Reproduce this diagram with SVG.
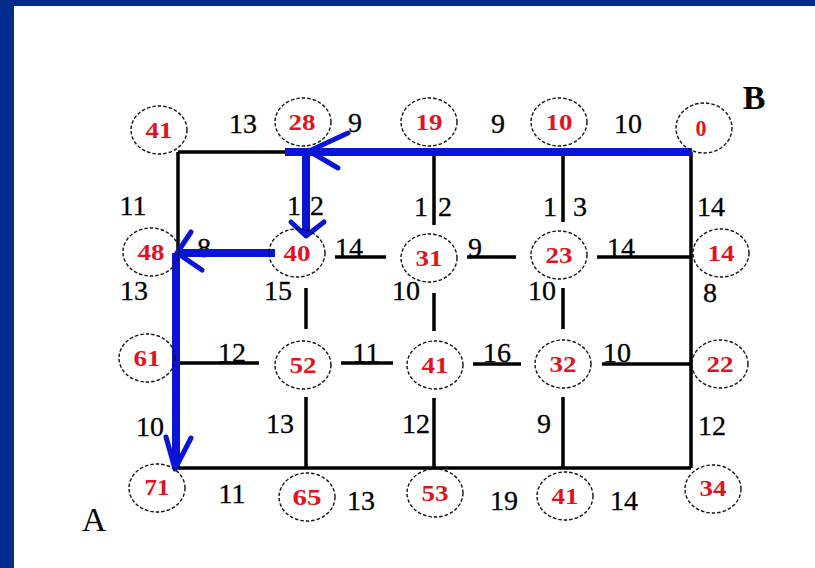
<svg xmlns="http://www.w3.org/2000/svg" width="815" height="568" viewBox="0 0 815 568">
<style>
.lab{font-family:"Liberation Serif","Times New Roman","DejaVu Serif",serif;font-size:28px;fill:#000;stroke:#000;stroke-width:0.3;text-anchor:middle}
.big{font-family:"Liberation Serif","Times New Roman","DejaVu Serif",serif;font-size:34px;fill:#000;text-anchor:middle}
.num{font-family:"Liberation Serif","Times New Roman","DejaVu Serif",serif;font-size:24px;font-weight:bold;fill:#E0141E;text-anchor:middle}
.ring{fill:none;stroke:#111;stroke-width:1.4;stroke-dasharray:3.5 2}
.edge{stroke:#000;stroke-width:3.5;fill:none}
.path{stroke:#0A14D6;stroke-width:8;fill:none}
.head{stroke:#0A14D6;stroke-width:5;fill:none;stroke-linecap:round;stroke-linejoin:round}
</style>
<rect x="0" y="0" width="815" height="568" fill="#fff"/>
<rect x="0" y="0" width="815" height="6" fill="#002D8C"/>
<rect x="0" y="0" width="14" height="568" fill="#002D8C"/>

<g id="connectors">
<path class="edge" d="M178 152 H692 M178 152 V468 M691 152 V468 M176 468 H691"/>
<path class="edge" d="M306 152 V235 M306 288 V329 M306 397 V468"/>
<path class="edge" d="M434 152 V225 M434 293 V331 M434 398 V468"/>
<path class="edge" d="M563 152 V222 M563 288 V329 M563 397 V468"/>
<path class="edge" d="M335 257 H386 M467 257 H516 M597 257 H691"/>
<path class="edge" d="M177 363 H259 M341 363 H393 M473 364 H521 M602 364 H691"/>
</g>

<g id="edge-labels">
<text class="lab" x="243" y="133">13</text>
<text class="lab" x="355" y="132">9</text>
<text class="lab" x="498" y="133">9</text>
<text class="lab" x="628" y="133">10</text>
<text class="lab" x="133" y="215">11</text>
<text class="lab" x="294" y="215">1</text>
<text class="lab" x="317" y="215">2</text>
<text class="lab" x="421" y="216">1</text>
<text class="lab" x="445" y="216">2</text>
<text class="lab" x="550" y="216">1</text>
<text class="lab" x="580" y="216">3</text>
<text class="lab" x="711" y="216">14</text>
<text class="lab" x="204" y="257">8</text>
<text class="lab" x="349" y="257">14</text>
<text class="lab" x="475" y="257">9</text>
<text class="lab" x="621" y="257">14</text>
<text class="lab" x="134" y="300">13</text>
<text class="lab" x="278" y="300">15</text>
<text class="lab" x="406" y="300">10</text>
<text class="lab" x="542" y="300">10</text>
<text class="lab" x="710" y="302">8</text>
<text class="lab" x="232" y="362">12</text>
<text class="lab" x="366" y="362">11</text>
<text class="lab" x="497" y="362">16</text>
<text class="lab" x="617" y="362">10</text>
<text class="lab" x="150" y="436">10</text>
<text class="lab" x="280" y="433">13</text>
<text class="lab" x="416" y="433">12</text>
<text class="lab" x="544" y="433">9</text>
<text class="lab" x="712" y="435">12</text>
<text class="lab" x="232" y="503">11</text>
<text class="lab" x="361" y="510">13</text>
<text class="lab" x="504" y="510">19</text>
<text class="lab" x="624" y="510">14</text>
<text class="big" x="94" y="531">A</text>
<text class="big" x="754" y="109" font-weight="bold">B</text>
</g>

<g id="shortest-path">
<path class="path" d="M692 152 H285 M306 148 V232 M275 253 H179 M176 253 V466"/>
<path class="head" d="M348 133 L309 151 L338 168"/>
<path class="head" d="M291 222 L306 236 L324 222"/>
<path class="head" d="M191 232 L177 253 L202 270"/>
<path class="head" d="M166 437 L175 469 L191 438"/>
</g>

<g id="n-41a"><ellipse class="ring" cx="159" cy="130" rx="28" ry="24"/><text class="num" x="159" y="138" textLength="27" lengthAdjust="spacingAndGlyphs">41</text></g>
<g id="n-28"><ellipse class="ring" cx="303" cy="122" rx="28" ry="24"/><text class="num" x="302" y="130" textLength="27" lengthAdjust="spacingAndGlyphs">28</text></g>
<g id="n-19"><ellipse class="ring" cx="429" cy="122" rx="28" ry="24"/><text class="num" x="429" y="130" textLength="27" lengthAdjust="spacingAndGlyphs">19</text></g>
<g id="n-10"><ellipse class="ring" cx="559" cy="122" rx="28" ry="24"/><text class="num" x="559" y="130" textLength="27" lengthAdjust="spacingAndGlyphs">10</text></g>
<g id="n-0"><ellipse class="ring" cx="704" cy="128" rx="28" ry="25"/><text class="num" x="701" y="136" textLength="11" lengthAdjust="spacingAndGlyphs">0</text></g>

<g id="n-48"><ellipse class="ring" cx="151" cy="252" rx="28" ry="24"/><text class="num" x="151" y="260" textLength="27" lengthAdjust="spacingAndGlyphs">48</text></g>
<g id="n-40"><ellipse class="ring" cx="297" cy="253" rx="28" ry="24"/><text class="num" x="297" y="261" textLength="27" lengthAdjust="spacingAndGlyphs">40</text></g>
<g id="n-31"><ellipse class="ring" cx="429" cy="258" rx="28" ry="24"/><text class="num" x="429" y="266" textLength="27" lengthAdjust="spacingAndGlyphs">31</text></g>
<g id="n-23"><ellipse class="ring" cx="559" cy="255" rx="28" ry="24"/><text class="num" x="559" y="263" textLength="27" lengthAdjust="spacingAndGlyphs">23</text></g>
<g id="n-14"><ellipse class="ring" cx="721" cy="253" rx="28" ry="24"/><text class="num" x="721" y="261" textLength="27" lengthAdjust="spacingAndGlyphs">14</text></g>

<g id="n-61"><ellipse class="ring" cx="147" cy="358" rx="28" ry="24"/><text class="num" x="147" y="366" textLength="27" lengthAdjust="spacingAndGlyphs">61</text></g>
<g id="n-52"><ellipse class="ring" cx="303" cy="365" rx="28" ry="24"/><text class="num" x="303" y="373" textLength="27" lengthAdjust="spacingAndGlyphs">52</text></g>
<g id="n-41b"><ellipse class="ring" cx="435" cy="365" rx="28" ry="24"/><text class="num" x="435" y="373" textLength="27" lengthAdjust="spacingAndGlyphs">41</text></g>
<g id="n-32"><ellipse class="ring" cx="563" cy="364" rx="28" ry="24"/><text class="num" x="563" y="372" textLength="27" lengthAdjust="spacingAndGlyphs">32</text></g>
<g id="n-22"><ellipse class="ring" cx="720" cy="364" rx="28" ry="24"/><text class="num" x="720" y="372" textLength="27" lengthAdjust="spacingAndGlyphs">22</text></g>

<g id="n-71"><ellipse class="ring" cx="157" cy="488" rx="28" ry="24"/><text class="num" x="157" y="495" textLength="25" lengthAdjust="spacingAndGlyphs">71</text></g>
<g id="n-65"><ellipse class="ring" cx="307" cy="497" rx="28" ry="24"/><text class="num" x="307" y="505" textLength="29" lengthAdjust="spacingAndGlyphs">65</text></g>
<g id="n-53"><ellipse class="ring" cx="435" cy="493" rx="28" ry="24"/><text class="num" x="435" y="501" textLength="27" lengthAdjust="spacingAndGlyphs">53</text></g>
<g id="n-41c"><ellipse class="ring" cx="565" cy="496" rx="28" ry="24"/><text class="num" x="565" y="504" textLength="27" lengthAdjust="spacingAndGlyphs">41</text></g>
<g id="n-34"><ellipse class="ring" cx="713" cy="489" rx="28" ry="24"/><text class="num" x="713" y="496" textLength="27" lengthAdjust="spacingAndGlyphs">34</text></g>
</svg>
